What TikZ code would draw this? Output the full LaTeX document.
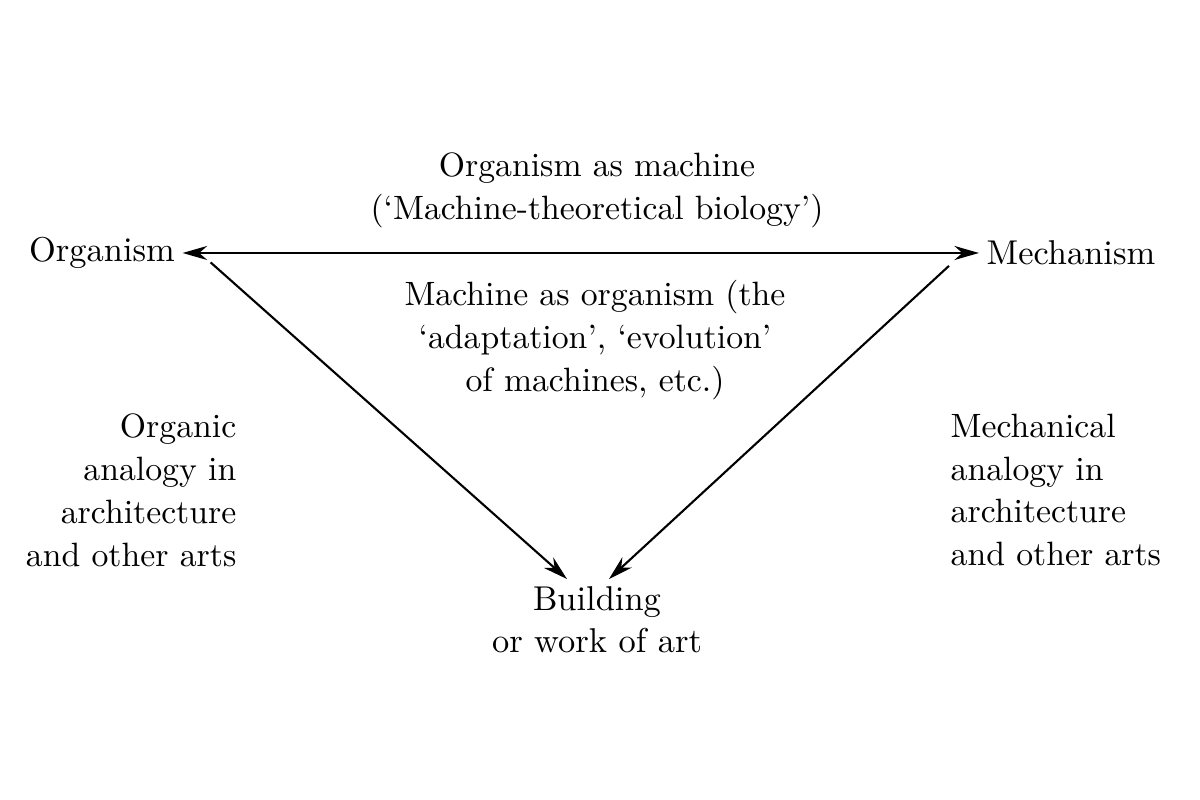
\documentclass[tikz,border=0pt]{standalone}
\usepackage{tikz}
\usetikzlibrary{arrows.meta}
\tikzstyle{term}=[inner sep=2pt,font=\fontsize{9.8}{12}\selectfont]
\tikzstyle{note}=[inner sep=0pt,font=\fontsize{9.6}{12.2}\selectfont]
\tikzstyle{link}=[-{Stealth[length=7pt,width=4pt]},semithick]

\begin{document}
\begin{tikzpicture}
\useasboundingbox (0,0) rectangle (12,8);
\node[term] at (1.02, 5.47) (org) {Organism};
\node[term] at (10.71, 5.47) (mech) {Mechanism};
\node[term, align=center] at (5.97, 1.80) (bldg) {Building\\or work of art};
\node[note, align=center] at (5.97, 6.10) (top) {Organism as machine\\(`Machine-theoretical biology')};
\node[note, align=center] at (5.95, 4.60) (mid) {Machine as organism (the\\`adaptation', `evolution'\\of machines, etc.)};
\node[note, align=right, anchor=east] at (2.37, 3.10) (left) {Organic\\analogy in\\architecture\\and other arts};
\node[note, align=left, anchor=west] at (9.50, 3.10) (right) {Mechanical\\analogy in\\architecture\\and other arts};
\draw[link, {Stealth[length=7pt,width=4pt]}-{Stealth[length=7pt,width=4pt]}] (org.east) -- (mech.west);
\draw[link] ([shift={(0.28,0.14)}]org.south east) -- ([xshift=-0.3cm]bldg.north);
\draw[link] ([shift={(-0.3,0.07)}]mech.south west) -- ([xshift=0.12cm]bldg.north);
\end{tikzpicture}
\end{document}
